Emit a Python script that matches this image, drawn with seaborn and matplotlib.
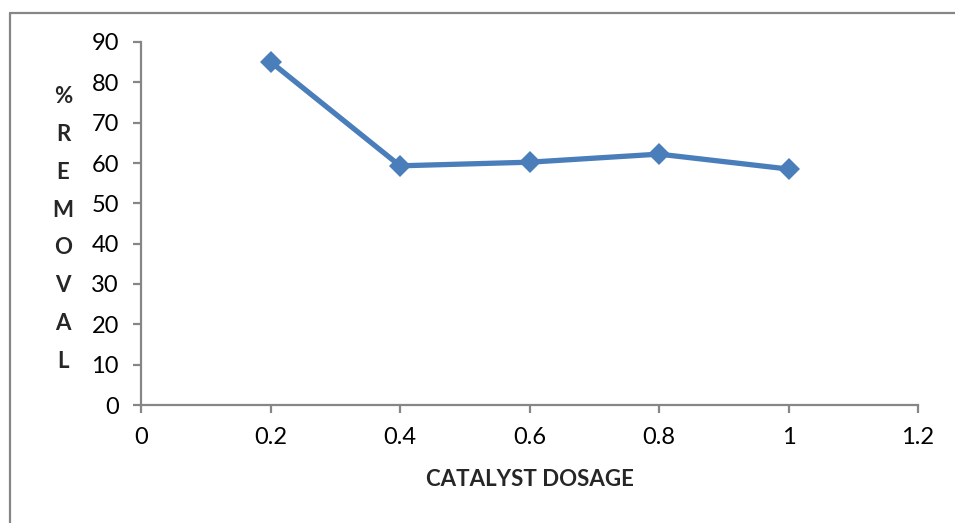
import matplotlib
matplotlib.use("Agg")
import matplotlib.pyplot as plt
from matplotlib.lines import Line2D
import seaborn as sns
import pandas as pd

# Catalyst dosage vs. percentage removal
dosage = [0.2, 0.4, 0.6, 0.8, 1.0]
removal = [85.1, 59.3, 60.2, 62.2, 58.5]
x_ticks = [0, 0.2, 0.4, 0.6, 0.8, 1, 1.2]
x_tick_labels = ["0", "0.2", "0.4", "0.6", "0.8", "1", "1.2"]
y_ticks = [0, 10, 20, 30, 40, 50, 60, 70, 80, 90]

sns.set_theme(style="white")
plt.rcParams["font.family"] = ["Lato", "DejaVu Sans"]

df = pd.DataFrame({"dosage": dosage, "removal": removal})

fig = plt.figure(figsize=(9.55, 5.23), dpi=100)
ax = fig.add_axes([141 / 955, 1 - 405 / 523, (918 - 141) / 955, (405 - 42) / 523])

sns.lineplot(data=df, x="dosage", y="removal", ax=ax, color="#4A7EBB",
             linewidth=3.8, marker="D", markersize=11, markeredgewidth=0,
             markeredgecolor="#4A7EBB")

ax.set_xlim(0, 1.2)
ax.set_ylim(0, 90)
ax.set_xticks(x_ticks)
ax.set_xticklabels(x_tick_labels)
ax.set_yticks(y_ticks)

axis_gray = "#868686"
for side in ("top", "right"):
    ax.spines[side].set_visible(False)
for side in ("left", "bottom"):
    ax.spines[side].set_color(axis_gray)
    ax.spines[side].set_linewidth(1.6)

ax.tick_params(axis="both", which="major", direction="out", length=6,
               width=1.6, color=axis_gray, labelsize=17, labelcolor="black",
               bottom=True, left=True)
ax.tick_params(axis="y", pad=10)
ax.tick_params(axis="x", pad=10)
ax.set_xlabel("")
ax.set_ylabel("")
ax.grid(False)

# Vertical stacked y-axis title
fig.text(63 / 955, 1 - 229 / 523, "%\nR\nE\nM\nO\nV\nA\nL", ha="center",
         va="center", fontsize=16, fontweight="bold", linespacing=1.99)

# x-axis title
fig.text(530 / 955, 1 - 480 / 523, "CATALYST DOSAGE", ha="center",
         va="center", fontsize=16, fontweight="bold")

# Chart area border
fig.add_artist(Line2D([10 / 955, 10 / 955], [0, 1 - 13 / 523],
                      transform=fig.transFigure, color=axis_gray, linewidth=1.6))
fig.add_artist(Line2D([10 / 955, 1], [1 - 13 / 523, 1 - 13 / 523],
                      transform=fig.transFigure, color=axis_gray, linewidth=1.6))

fig.savefig("out.png", dpi=100, facecolor="white")
